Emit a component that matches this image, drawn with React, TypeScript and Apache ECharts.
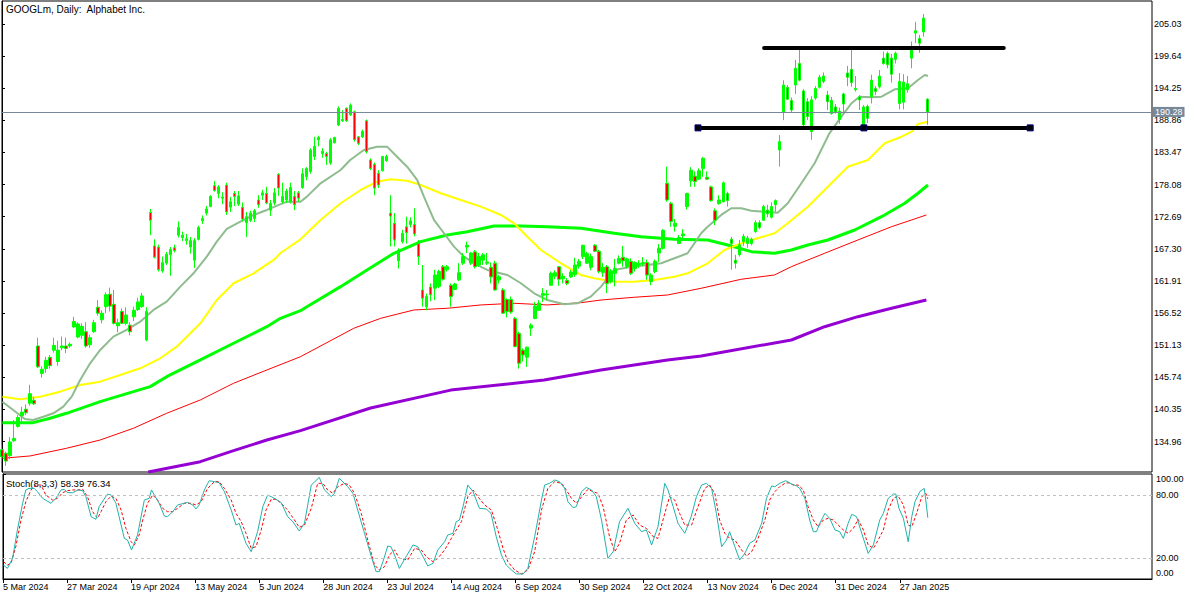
import React, { useEffect, useRef } from "react";
import * as echarts from "echarts";

const FONT = "'Liberation Sans', Arial, sans-serif";

// ---- categories (trading days) ----
const MONTH_DAYS: [string, number[]][] = [
  ["Mar 2024", [5, 6, 7, 8, 11, 12, 13, 14, 15, 18, 19, 20, 21, 22, 25, 26, 27, 28]],
  ["Apr 2024", [1, 2, 3, 4, 5, 8, 9, 10, 11, 12, 15, 16, 17, 18, 19, 22, 23, 24, 25, 26, 29, 30]],
  ["May 2024", [1, 2, 3, 6, 7, 8, 9, 10, 13, 14, 15, 16, 17, 20, 21, 22, 23, 24, 28, 29, 30, 31]],
  ["Jun 2024", [3, 4, 5, 6, 7, 10, 11, 12, 13, 14, 17, 18, 20, 21, 24, 25, 26, 27, 28]],
  ["Jul 2024", [1, 2, 3, 5, 8, 9, 10, 11, 12, 15, 16, 17, 18, 19, 22, 23, 24, 25, 26, 29, 30, 31]],
  ["Aug 2024", [1, 2, 5, 6, 7, 8, 9, 12, 13, 14, 15, 16, 19, 20, 21, 22, 23, 26, 27, 28, 29, 30]],
  ["Sep 2024", [3, 4, 5, 6, 9, 10, 11, 12, 13, 16, 17, 18, 19, 20, 23, 24, 25, 26, 27, 30]],
  ["Oct 2024", [1, 2, 3, 4, 7, 8, 9, 10, 11, 14, 15, 16, 17, 18, 21, 22, 23, 24, 25, 28, 29, 30, 31]],
  ["Nov 2024", [1, 4, 5, 6, 7, 8, 11, 12, 13, 14, 15, 18, 19, 20, 21, 22, 25, 26, 27, 29]],
  ["Dec 2024", [2, 3, 4, 5, 6, 9, 10, 11, 12, 13, 16, 17, 18, 19, 20, 23, 24, 26, 27, 30, 31]],
  ["Jan 2025", [2, 3, 6, 7, 8, 10, 13, 14, 15, 16, 17, 21, 22, 23, 24, 27, 28, 29, 30, 31]],
  ["Feb 2025", [3, 4, 5]],
];
const LABEL_EVERY = 16;
const TOTAL_SLOTS = 288;

// ---- OHLC ----
const OPEN = [133.6,133.0,132.6,135.1,137.5,139.3,140.4,141.4,141.9,151.0,146.4,147.2,149.1,150.3,148.4,150.7,151.0,151.0,154.2,152.5,152.8,153.4,151.2,153.4,157.5,155.4,157.6,159.7,158.0,154.4,156.8,154.8,154.5,155.9,157.1,157.6,152.0,173.4,167.8,167.6,163.6,164.9,166.3,167.5,169.6,169.2,168.7,167.6,165.4,168.9,172.0,173.3,174.4,177.9,176.6,175.8,178.0,174.3,176.6,174.8,174.3,171.7,172.1,172.4,175.5,176.3,176.6,173.8,175.0,179.8,175.2,175.5,175.2,176.1,176.7,177.6,179.4,180.3,182.8,185.6,183.3,183.3,181.7,185.1,188.1,188.8,190.9,189.8,190.3,186.1,186.1,188.8,182.2,181.5,180.0,180.4,182.1,173.3,171.6,165.3,168.5,171.0,171.4,171.4,168.2,160.4,157.6,160.9,160.7,161.0,164.3,163.8,161.2,160.5,162.1,164.9,167.6,164.9,166.8,164.6,165.4,164.9,164.2,164.9,162.1,160.4,158.8,158.8,155.6,153.1,150.3,149.1,154.0,155.6,157.0,159.5,159.6,161.2,162.7,164.3,162.3,162.0,162.6,163.0,164.4,166.0,164.9,164.2,167.9,166.9,163.3,164.3,161.8,163.2,164.9,165.9,164.3,165.2,164.0,164.6,164.8,165.0,161.8,163.5,166.6,167.4,178.3,174.9,171.1,168.2,169.5,174.4,178.7,179.5,179.0,180.8,179.3,177.7,173.7,174.9,175.2,176.6,168.9,165.4,166.3,168.5,168.2,168.2,170.2,171.7,172.1,173.8,172.6,174.7,183.9,190.3,194.4,192.2,194.8,198.4,193.8,192.0,187.0,192.6,194.4,195.4,193.1,190.0,191.1,189.0,193.3,196.8,197.4,194.0,192.8,188.1,191.2,192.8,194.2,194.5,199.3,200.1,199.3,199.1,191.7,191.9,194.0,199.3,203.5,202.6,203.7,192.4];
const HIGH = [134.4,133.3,135.7,138.6,139.4,140.8,141.2,144.5,142.5,152.4,147.6,149.2,149.5,152.4,151.9,152.6,152.4,151.6,155.9,155.0,154.8,155.0,152.9,155.4,158.7,157.0,160.0,160.8,160.4,155.6,157.3,157.5,155.0,157.6,159.1,159.9,157.5,174.0,168.9,168.0,166.0,166.8,167.6,168.0,171.9,170.2,169.8,169.3,169.1,171.2,172.9,174.5,176.3,178.7,178.0,176.8,178.4,176.0,177.0,177.0,175.1,173.5,173.7,174.0,176.3,177.2,177.7,175.5,177.5,180.0,178.4,177.4,178.4,177.0,177.0,180.8,181.0,184.2,186.1,186.3,184.2,183.6,185.9,186.1,191.2,190.6,191.0,191.7,190.5,186.2,187.3,189.0,182.5,181.8,180.5,182.9,183.1,176.3,173.3,167.4,170.5,172.7,172.6,174.1,168.8,164.6,159.8,161.5,163.8,163.8,164.6,164.6,161.5,161.6,164.9,166.6,168.5,166.8,167.1,166.6,166.6,166.6,165.0,165.3,162.9,160.7,159.0,159.3,155.9,153.4,150.6,150.9,154.8,158.4,158.7,160.7,160.4,163.5,163.7,164.4,163.2,162.4,163.8,165.8,165.6,168.0,166.8,166.5,168.1,167.1,164.9,164.6,163.9,165.6,166.2,167.8,165.8,165.7,165.2,165.4,165.9,165.5,163.2,165.5,168.1,170.6,181.1,175.2,172.3,169.6,170.6,176.7,181.0,180.3,180.8,182.7,180.3,177.9,174.1,176.3,178.6,176.9,169.3,166.3,168.8,169.8,169.5,169.2,172.1,172.1,174.7,174.7,175.1,175.6,186.4,195.6,194.8,192.7,199.0,200.7,194.1,192.6,192.9,194.6,196.5,196.9,193.8,192.8,191.6,191.0,193.5,198.0,200.7,196.3,193.1,191.4,191.5,196.5,194.6,197.3,200.4,200.4,200.0,200.4,196.8,196.6,196.3,202.1,205.4,203.2,206.7,192.6];
const LOW = [131.8,130.9,132.0,134.9,137.3,138.3,139.4,141.0,141.1,147.3,145.7,146.5,147.2,149.9,147.7,150.3,149.8,150.7,154.0,152.3,152.2,150.7,150.7,153.2,156.1,154.8,156.5,156.8,154.6,153.3,154.7,154.5,152.8,155.2,156.9,157.4,151.8,169.6,165.7,163.5,163.3,164.6,162.8,166.7,169.2,168.6,168.0,166.5,164.1,168.7,171.5,172.9,174.3,176.9,175.8,174.8,173.0,173.5,174.5,174.5,171.9,169.3,171.8,171.8,174.2,175.5,174.8,172.8,174.6,176.2,174.9,175.0,174.9,173.8,175.2,177.4,178.8,179.9,182.2,184.5,182.6,181.4,181.4,185.0,187.9,188.6,188.6,189.6,185.3,184.7,185.9,183.3,180.5,176.3,177.5,180.3,181.9,167.7,167.7,164.0,168.2,168.2,170.9,169.4,164.6,157.6,157.0,158.5,158.7,160.7,162.0,163.5,157.6,160.4,161.9,164.6,166.6,164.6,164.0,164.3,164.6,164.6,161.5,160.3,161.5,156.4,155.8,156.4,150.8,147.2,148.4,147.5,152.7,155.5,157.0,158.4,158.7,161.1,162.2,161.1,161.5,161.2,162.4,162.6,164.0,165.6,164.8,163.7,166.8,163.2,162.6,159.9,161.5,161.0,164.7,164.3,164.0,162.9,163.5,164.1,164.4,162.1,161.2,163.2,165.1,167.2,175.2,171.0,170.2,168.1,168.8,173.9,177.7,177.7,178.9,179.4,178.9,175.2,171.3,174.7,175.1,174.4,163.8,164.0,166.0,167.8,167.5,167.9,170.0,170.6,172.0,172.6,172.4,173.5,181.1,188.9,192.3,190.2,193.3,195.4,187.8,188.9,185.6,192.3,194.2,195.1,190.6,189.8,190.0,188.3,190.0,194.6,194.5,193.7,190.6,187.5,188.4,191.7,193.1,194.2,198.2,197.6,195.2,198.4,190.7,190.7,193.5,197.6,201.8,200.2,202.9,188.1];
const CLOSE = [132.4,131.7,134.9,135.5,139.0,139.9,139.8,143.0,141.3,147.5,147.1,148.6,147.7,151.1,150.3,151.0,150.6,151.3,155.1,154.7,154.3,151.0,152.4,154.9,156.5,156.5,159.6,157.7,154.8,154.9,154.8,156.2,153.4,157.0,158.4,159.4,156.8,172.1,165.9,163.8,165.0,166.4,167.2,167.0,170.9,169.6,169.0,168.7,168.7,170.9,172.4,174.0,176.1,177.1,177.7,176.0,173.5,175.2,176.1,176.2,172.3,172.7,173.3,173.7,174.7,176.7,175.0,174.9,176.7,177.5,176.1,177.0,177.6,174.7,175.8,179.9,180.8,183.9,184.5,186.0,183.7,182.8,185.6,186.0,190.9,189.0,188.8,191.4,185.6,185.0,187.0,183.6,180.8,177.5,178.0,182.8,182.8,172.8,168.8,167.1,169.9,170.0,172.0,169.8,166.0,159.0,159.3,159.6,162.9,163.5,162.2,164.3,159.3,161.4,163.3,166.0,167.9,166.6,164.3,166.0,166.3,165.1,162.6,160.4,162.6,156.5,156.8,156.7,150.9,148.1,149.5,150.8,154.5,157.7,158.2,159.8,159.7,163.2,163.3,162.2,162.7,161.5,163.4,164.6,165.2,167.9,166.5,166.0,166.9,163.5,164.2,161.5,163.6,164.0,165.7,165.3,165.6,163.2,165.0,164.9,165.0,162.9,162.9,165.2,167.4,170.4,175.5,171.9,171.6,169.2,169.8,176.6,180.5,178.6,180.4,182.5,179.0,175.4,172.1,175.5,178.4,175.4,168.2,164.9,168.0,169.4,169.1,168.9,171.7,170.9,174.4,173.2,174.4,175.4,185.3,194.8,192.4,190.6,197.6,195.6,188.1,189.5,192.3,194.2,196.1,196.3,192.0,192.2,190.3,190.4,191.6,196.1,195.2,194.2,192.3,191.1,189.2,195.6,193.7,196.3,198.4,198.2,196.6,200.1,195.4,195.3,195.0,200.7,203.9,201.8,206.0,190.28];

// ---- moving averages: [bar index, price] ----
const MA_GRAY = [[0.1,141.66],[2.8,140.27],[5.7,138.76],[7.8,138.59],[10.3,139.14],[12.8,139.71],[15.3,140.82],[17.4,142.5],[19.5,145.3],[22,148.1],[24.5,150.34],[27.8,152.57],[31.1,153.69],[34.5,155.08],[37.8,157.05],[41.1,158.44],[44.5,160.96],[47.8,163.2],[51.1,165.99],[53.6,168.51],[56.1,170.64],[59.5,171.86],[62.8,172.99],[66.1,173.83],[71.1,175.22],[74.5,175.22],[76.1,176.06],[79.5,178.3],[84.5,180.54],[86.9,182.21],[90.3,183.89],[93.6,184.45],[96.1,184.45],[98.6,182.77],[101.1,181.09],[103.6,178.86],[105.3,176.06],[107.8,172.15],[110.3,169.92],[112.8,167.67],[115.3,165.99],[117.8,164.88],[121.1,163.76],[126.1,162.92],[129.5,161.53],[132.8,159.85],[136.1,158.72],[140.3,158.0],[143.6,158.17],[146.9,159.28],[149.5,160.96],[152.8,163.76],[157,164.31],[161.1,164.6],[164.5,164.88],[167.8,165.72],[171.1,166.56],[174.5,169.92],[176.1,171.02],[179.5,172.99],[182,174.11],[184.5,174.11],[187,173.71],[193.6,173.37],[196.1,174.95],[199.5,178.3],[202.8,181.66],[206.5,186.69],[209.5,189.48],[212,191.73],[214,192.84],[217,192.74],[219.5,192.84],[222.8,194.08],[226.1,194.24],[228.6,195.64],[230.3,196.48],[231.1,196.31]];
const MA_YELLOW = [[0.1,142.5],[4.5,142.06],[9.5,142.5],[14.5,143.34],[19.5,144.46],[24.5,145.02],[29.5,146.14],[34.5,147.26],[39.5,148.94],[43.6,150.89],[49.5,154.81],[53.6,158.72],[57.8,161.53],[62.8,163.2],[67.8,165.44],[69.5,166.6],[74.5,168.9],[79.5,172.15],[84.5,174.95],[89.5,177.18],[93.6,178.57],[97,178.98],[101.1,178.74],[104.5,178.02],[109.5,176.63],[114.5,175.5],[119.5,174.38],[124.5,172.99],[127.8,171.59],[131.1,169.34],[134.5,167.11],[139.5,164.88],[144.5,162.92],[147.8,162.36],[152.8,161.79],[157.8,161.79],[162.8,162.08],[167.8,162.63],[171.1,163.2],[176.1,164.88],[180.3,167.11],[184.5,168.24],[188.6,169.08],[192.8,169.92],[196.1,171.59],[201.1,174.38],[206.1,177.73],[211.1,181.09],[216.1,182.21],[220.3,185.02],[224.5,186.12],[227,186.96],[228.6,188.25],[231.1,188.64]];
const MA_LIME = [[0.1,138.14],[7.8,138.14],[12,138.88],[16.1,139.71],[24.5,141.66],[32.8,143.34],[37,144.18],[41.1,145.85],[49.5,148.66],[57.8,151.46],[66.1,154.24],[69.5,155.65],[74.5,156.93],[76.1,157.6],[84.5,160.96],[91.1,163.76],[97.8,166.56],[104.5,168.51],[111.1,169.63],[116.1,170.18],[122.8,171.14],[129.5,171.14],[136.1,171.02],[144.5,170.75],[152.8,169.92],[159.5,169.34],[167.8,168.91],[176.1,168.79],[181.1,167.95],[187,166.83],[192.8,166.56],[197,167.11],[201.1,167.95],[206.1,168.79],[212.8,170.47],[219.5,172.7],[225.3,174.95],[228.6,176.63],[231.1,178.02]];
const MA_RED = [[0.1,132.16],[7,132.55],[16.1,133.84],[24.5,135.23],[32.8,137.2],[41.1,139.71],[49.5,141.95],[57.8,144.75],[66.1,146.98],[74.5,149.21],[87.8,153.98],[94.5,155.65],[102.8,157.05],[111.1,157.33],[119.5,157.89],[127.8,158.17],[136.1,157.89],[144.5,158.27],[149.5,158.72],[157.8,159.18],[166.1,159.56],[174.5,160.69],[184.5,162.2],[192.8,162.92],[197,164.31],[205.3,166.56],[213.6,168.79],[222,171.02],[230.7,172.99]];
const MA_PURPLE = [[36.5,129.86],[49.5,131.59],[57.8,133.44],[66.1,135.23],[74.5,136.8],[92,140.6],[112,143.6],[135.3,145.3],[149.5,146.98],[166.1,148.66],[174.5,149.33],[197,152.01],[205.3,154.24],[213.6,155.92],[222,157.33],[230.7,158.72]];

// ---- hand-drawn levels ----
const RESISTANCE = { from: 190.2, to: 250.0, price: 201.0 };
const SUPPORT = { from: 173.7, mid: 215.1, to: 256.6, price: 187.6 };
const LAST_PRICE = 190.28;

// ---- price axis ticks ----
const PRICE_TICKS = [134.96, 140.35, 145.74, 151.13, 156.52, 161.91, 167.3, 172.69, 178.08, 183.47, 188.86, 194.25, 199.64, 205.03];
const PRICE_MIN = 129.86;
const PRICE_MAX = 208.89;

// ---- stochastic (8,3,3): [bar index, value] ----
const STOCH_K = [[0.1,13.3],[1.1,10.1],[2.4,19.7],[3.6,46.7],[4.9,72.1],[5.7,84.8],[6.5,86.3],[7.8,86.3],[8.6,83.2],[9.9,76.8],[12,72.1],[13.2,76.8],[14.5,84.8],[15.3,85.4],[16.1,82.2],[17.4,82.2],[18.8,84.8],[19.9,84.1],[20.7,78.4],[22,59.4],[23.2,56.8],[24,68.9],[26.1,80.9],[27,80],[28.2,72.1],[30.3,38.7],[31.1,37.1],[32.1,27.6],[33.6,41.9],[35.3,75.2],[36.5,76.8],[37.1,84.8],[37.8,80],[39,72.1],[40.3,60],[41.1,59.4],[42.4,64.1],[43.6,70.5],[46.1,73],[47.4,70.5],[48.2,66.7],[49,70.5],[50.3,84.8],[51.5,93.6],[52.8,92.7],[54,91.7],[55.3,83.2],[57,65.7],[58.2,51.4],[59,53],[60.7,34],[62,26],[63.6,45.1],[64.9,68.9],[66.1,80],[67,78.4],[68.2,75.9],[69.5,72.7],[71.1,59.4],[72.4,54.6],[74,45.7],[75.3,53],[77,89.5],[79,96.8],[80.3,84.8],[82,78.4],[82.8,81.6],[84,95.9],[86.1,87.9],[87.4,81.6],[88.6,65.7],[90.3,43.5],[92,21.3],[93.2,7],[94,7],[94.9,16.5],[96.1,31.4],[96.9,30.8],[97.8,22.9],[99,10.1],[100.7,21.3],[102.4,32.4],[103.6,30.8],[104.9,21.3],[106.1,12.4],[107.4,14.9],[108.6,27.6],[110.3,35.5],[111.1,41.9],[112.4,43.5],[113.2,54.6],[114,56.2],[114.9,68.9],[116.1,89.5],[117.4,83.2],[119,67.3],[120.7,66.7],[121.9,62.5],[123.2,40.3],[124.5,22.9],[125.7,13.3],[127,8.6],[128.2,4.8],[129.9,4.8],[131.1,10.1],[132.8,40.3],[134.5,75.2],[135.3,89.5],[136.5,91.1],[137.8,94.3],[139,92.7],[140.3,86.3],[141.1,73.6],[142.4,67.9],[143.2,68.9],[144.5,83.2],[145.7,87.3],[147,84.8],[148.2,78.4],[149.5,56.2],[151.1,19.7],[152.4,26],[154,54.6],[156.1,67.3],[157.8,53],[159.5,45.1],[160.7,46.7],[162,32.4],[163.6,49.8],[165.3,91.1],[166.1,84.8],[167.4,68.9],[168.6,53],[170.3,43.5],[171.9,59.4],[173.2,78.4],[174.5,89.5],[175.7,91.1],[177,86.3],[178.2,62.5],[179.5,30.8],[180.7,37.1],[181.5,45.1],[182.8,30.8],[184,18.1],[185.3,24.4],[186.5,34],[187.8,37.1],[189.5,53],[190.7,76.8],[192,88.6],[192.8,87.9],[194,91.1],[195.5,93.6],[197,90.5],[198.2,88.6],[199,86.3],[200.3,76.8],[201.5,56.2],[202.4,45.1],[203.2,45.1],[204,53],[205.3,62.5],[206.5,57.8],[207.8,46.7],[209,45.1],[209.9,38.7],[211.1,53],[212,61.6],[213.2,59.4],[214.5,43.5],[215.3,34],[216.1,24.4],[217.4,32.4],[219,56.2],[219.9,62.5],[221.1,76.8],[222.4,80.9],[223,80.9],[223.8,67.3],[224.9,57.8],[226.1,35.5],[227,59.4],[227.8,73.6],[229,83.2],[230.1,86.3],[230.5,75.2],[231,58.39]];
const STOCH_D = [[0.1,16.5],[1.1,13.3],[2,14.9],[3.2,30.8],[4.5,56.2],[5.7,73.6],[7,84.8],[8.2,89.5],[9.5,89.5],[10.7,80],[12.4,75.2],[13.6,76.8],[14.9,82.2],[16.1,84.1],[17.4,84.8],[18.6,84.8],[19.9,85.4],[21.1,78.4],[22.4,64.1],[23.6,57.8],[24.5,64.1],[25.7,73.6],[27,79],[28.2,76.8],[29.5,65.7],[30.7,48.2],[32,35.5],[32.8,32.4],[34,41.9],[34.9,56.2],[36.1,72.1],[37.4,80],[38.6,75.2],[39.9,67.3],[41.1,64.1],[42.4,64.1],[43.6,67.3],[45.3,72.1],[47,72.1],[48.2,70.5],[49.5,73.6],[51.1,86.3],[52.8,92.7],[54,92.7],[55.3,86.3],[57,75.2],[58.2,62.5],[59.5,54.6],[60.7,43.5],[62,29.2],[63.2,30.8],[64.5,46.7],[65.7,65.7],[67,75.9],[68.2,75.9],[69.5,72.1],[71.1,65.7],[72.8,56.2],[74,49.2],[75.3,51.4],[77,67.3],[78.6,91.1],[79.9,91.1],[81.1,84.8],[82.4,81.6],[83.6,87.9],[85.3,91.1],[86.5,89.5],[87.8,81.6],[89.5,62.5],[91.1,37.1],[92.8,13.3],[94,8.6],[95.3,11.7],[96.5,22.9],[97.8,27.6],[99,19.7],[101.1,18.1],[102.8,29.2],[104.5,27.6],[105.7,21.3],[107.4,16.5],[108.6,19.7],[110.3,27.6],[112,38.7],[113.2,46.7],[114.5,54.6],[116.1,78.4],[117.4,84.8],[118.6,78.4],[120.3,70.5],[122,65.7],[123.6,46.7],[124.9,29.2],[126.1,16.5],[127.8,8.6],[129.5,4.8],[131.1,8.6],[132.8,26],[134.5,65.7],[136.1,86.3],[137.8,92.7],[139.5,91.1],[140.7,84.8],[142,76.8],[143.2,72.1],[144.9,80],[146.1,85.4],[147.4,83.2],[148.6,81.6],[149.9,68.9],[151.5,40.3],[152.8,26],[154,34],[155.7,56.2],[157.4,61],[159,51.4],[160.7,48.2],[162.4,40.3],[163.6,38.7],[165.3,62.5],[166.5,78.4],[167.8,75.2],[169,62.5],[170.3,51.4],[172,51.4],[173.6,68.9],[175.3,86.3],[176.5,89.5],[177.8,81.6],[179,56.2],[180.3,43.5],[181.5,38.7],[182.8,37.1],[184.5,27.6],[185.7,21.9],[187,26],[188.6,38.7],[190.3,56.2],[191.5,75.2],[192.8,83.2],[194,87.9],[195.3,91.1],[196.1,91.7],[197.4,89.5],[198.6,89.5],[199.9,84.8],[201.1,68.9],[202.4,56.2],[203.6,49.8],[204.9,56.2],[206.1,57.8],[207.4,56.2],[208.6,51.4],[209.9,46.7],[211.1,43.5],[212.4,48.2],[213.6,56.8],[214.9,46.7],[216.1,32.4],[217.4,29.2],[218.6,37.1],[219.9,46.7],[221.1,65.7],[222.4,76.8],[223.6,79],[224.9,70.5],[226.1,51.4],[227,49.8],[228.2,62.5],[229.5,78.4],[230.5,81.6],[231,76.34]];
const STOCH_LEVELS = [80, 20];
const STOCH_TICKS = [0, 20, 80, 100];

function buildCategories(): string[] {
  const out: string[] = [];
  MONTH_DAYS.forEach(([m, days]) => days.forEach((d) => out.push(`${d} ${m}`)));
  const n = out.length;
  for (let i = n; i < TOTAL_SLOTS; i++) out.push(`slot${i}`);
  return out;
}

export default function App() {
  const ref = useRef<HTMLDivElement>(null);
  useEffect(() => {
    if (!ref.current) return;
    const chart = echarts.init(ref.current, undefined, { renderer: "svg" });
    const categories = buildCategories();
    const nBars = OPEN.length;
    const showLabel = (idx: number) => idx < nBars && idx % LABEL_EVERY === 0;
    const candleData = OPEN.map((o, i) => [o, CLOSE[i], LOW[i], HIGH[i]]);
    const maLine = (name: string, data: number[][], color: string, width: number, z = 2) => ({
      name,
      type: "line",
      xAxisIndex: 1,
      yAxisIndex: 0,
      data,
      showSymbol: false,
      symbol: "none",
      silent: true,
      z,
      lineStyle: { color, width },
    });
    const textStyle = { fontFamily: FONT, fontSize: 9, color: "#000" };
    const option: any = {
      animation: false,
      backgroundColor: "#ffffff",
      grid: [
        { left: 2, top: 1, width: 1150, height: 471, show: true, borderColor: "#000", borderWidth: 1, backgroundColor: "transparent" },
        { left: 2, top: 474, width: 1150, height: 105, show: true, borderColor: "#000", borderWidth: 1, backgroundColor: "transparent" },
      ],
      xAxis: [
        { type: "category", gridIndex: 0, data: categories, boundaryGap: false, show: false },
        { type: "value", gridIndex: 0, min: 0, max: TOTAL_SLOTS - 1, show: false },
        {
          type: "category",
          gridIndex: 1,
          data: categories,
          boundaryGap: false,
          axisLine: { show: true, lineStyle: { color: "#000", width: 1 } },
          axisTick: { show: true, length: 4, interval: (i: number) => showLabel(i), lineStyle: { color: "#000" } },
          axisLabel: { ...textStyle, interval: (i: number) => showLabel(i), align: "left", margin: 3 },
          splitLine: { show: false },
        },
        { type: "value", gridIndex: 1, min: 0, max: TOTAL_SLOTS - 1, show: false },
      ],
      yAxis: [
        {
          type: "value",
          gridIndex: 0,
          position: "right",
          min: PRICE_MIN,
          max: PRICE_MAX,
          splitLine: { show: false },
          axisLine: { show: true, lineStyle: { color: "#000" } },
          axisTick: { show: true, length: 3, customValues: PRICE_TICKS, lineStyle: { color: "#000" } },
          axisLabel: { ...textStyle, customValues: PRICE_TICKS, margin: 2, formatter: (v: number) => v.toFixed(2) },
        },
        {
          type: "value",
          gridIndex: 1,
          position: "right",
          min: 0,
          max: 100,
          splitLine: { show: false },
          axisLine: { show: true, lineStyle: { color: "#000" } },
          axisTick: { show: true, length: 3, customValues: STOCH_TICKS, lineStyle: { color: "#000" } },
          axisLabel: {
            ...textStyle,
            customValues: STOCH_TICKS,
            margin: 4,
            formatter: (v: number) =>
              v === 100 ? "{top|100.00}" : v === 0 ? "{bot|0.00}" : v.toFixed(2),
            rich: {
              top: { ...textStyle, padding: [10, 0, 0, 0] },
              bot: { ...textStyle, padding: [0, 0, 12, 0] },
            },
          },
        },
      ],
      series: [
        maLine("MA purple", MA_PURPLE, "#9400D3", 3),
        maLine("MA red", MA_RED, "#FF0000", 1),
        maLine("MA lime", MA_LIME, "#00FF00", 3),
        maLine("MA yellow", MA_YELLOW, "#FFFF00", 2),
        maLine("MA gray", MA_GRAY, "#8FBC8F", 2),
        {
          name: "GOOGLm",
          type: "candlestick",
          xAxisIndex: 0,
          yAxisIndex: 0,
          data: candleData,
          barWidth: 3,
          silent: true,
          z: 3,
          itemStyle: {
            color: "#00FF00",
            color0: "#FF0000",
            borderColor: "#00FF00",
            borderColor0: "#00FF00",
            borderWidth: 1,
          },
          markLine: {
            silent: true,
            symbol: ["none", "none"],
            animation: false,
            lineStyle: { color: "#778899", width: 1, type: "solid" },
            label: {
              show: true,
              position: "end",
              distance: 1,
              formatter: () => LAST_PRICE.toFixed(2),
              color: "#ffffff",
              backgroundColor: "#778899",
              padding: [1, 2, 0, 2],
              fontFamily: FONT,
              fontSize: 9,
            },
            data: [{ yAxis: LAST_PRICE }],
          },
        },
        {
          name: "Resistance",
          type: "line",
          xAxisIndex: 1,
          yAxisIndex: 0,
          silent: true,
          z: 4,
          symbol: "none",
          data: [[RESISTANCE.from, RESISTANCE.price], [RESISTANCE.to, RESISTANCE.price]],
          lineStyle: { color: "#000", width: 4, cap: "round" },
        },
        {
          name: "Support",
          type: "line",
          xAxisIndex: 1,
          yAxisIndex: 0,
          silent: true,
          z: 4,
          symbol: "rect",
          symbolSize: 6,
          showAllSymbol: true,
          itemStyle: { color: "#000", borderColor: "#000080", borderWidth: 1 },
          data: [[SUPPORT.from, SUPPORT.price], [SUPPORT.mid, SUPPORT.price], [SUPPORT.to, SUPPORT.price]],
          lineStyle: { color: "#000", width: 4, cap: "round" },
        },
        {
          name: "%K",
          type: "line",
          xAxisIndex: 3,
          yAxisIndex: 1,
          data: STOCH_K,
          symbol: "none",
          silent: true,
          z: 3,
          lineStyle: { color: "#20B2AA", width: 1 },
          markLine: {
            silent: true,
            symbol: ["none", "none"],
            animation: false,
            label: { show: false },
            lineStyle: { color: "#C0C0C0", width: 1, type: [3, 3] },
            data: STOCH_LEVELS.map((v) => ({ yAxis: v })),
          },
        },
        {
          name: "%D",
          type: "line",
          xAxisIndex: 3,
          yAxisIndex: 1,
          data: STOCH_D,
          symbol: "none",
          silent: true,
          z: 2,
          lineStyle: { color: "#FF0000", width: 1, type: [3, 2] },
        },
      ],
      graphic: [
        { type: "text", left: 6, top: 4, style: { text: "GOOGLm, Daily:  Alphabet Inc.", font: `10px ${FONT}`, fill: "#000" } },
        {
          type: "text",
          left: 6,
          top: 478,
          style: {
            text: `Stoch(8,3,3) ${STOCH_K[STOCH_K.length - 1][1].toFixed(2)} ${STOCH_D[STOCH_D.length - 1][1].toFixed(2)}`,
            font: `9.5px ${FONT}`,
            fill: "#000",
          },
        },
      ],
    };
    chart.setOption(option);
    return () => chart.dispose();
  }, []);
  return (
    <div
      ref={ref}
      style={{ position: "fixed", left: 0, top: 0, width: 1200, height: 600, background: "#fff" }}
    />
  );
}
